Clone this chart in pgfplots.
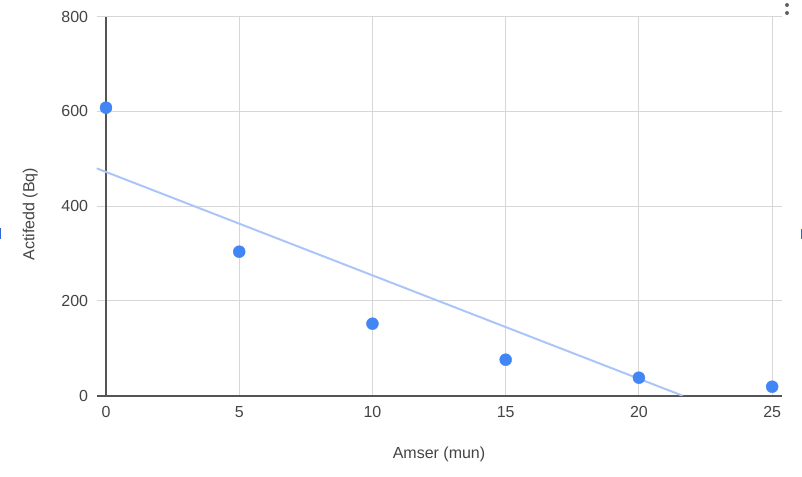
\documentclass[border=0pt]{standalone}
\usepackage{fontspec}
\setmainfont{Liberation Sans}
\usepackage{pgfplots}
\pgfplotsset{compat=1.18}
\definecolor{gblue}{HTML}{4285F4}
\definecolor{trend}{HTML}{AAC6F8}
\definecolor{gridc}{HTML}{D6D6D6}
\definecolor{axdark}{HTML}{555555}
\definecolor{txt}{HTML}{444444}
\definecolor{dotc}{HTML}{5F6368}
\definecolor{edgeblue}{HTML}{3367D6}
\begin{document}
\begin{tikzpicture}[font=\fontsize{16bp}{19bp}\selectfont]
\useasboundingbox (-96.7bp,-81.3bp) rectangle (705.3bp,395.7bp);
\begin{axis}[at={(0,0)}, anchor=south west, scale only axis,
  width=685.3bp, height=379bp,
  xmin=-0.349, xmax=25.37, ymin=0, ymax=800,
  xtick={5,10,...,25}, ytick={200,400,...,800},
  extra x ticks={0}, extra y ticks={0},
  extra x tick style={grid style={axdark, line width=1.6bp}},
  extra y tick style={grid style={axdark, line width=1.6bp}},
  grid=major, grid style={gridc, line width=1bp},
  axis line style={draw=none},
  tick style={draw=none},
  major tick length=0pt,
  /pgf/number format/assume math mode=true,
  ticklabel style={text=txt, inner sep=0pt},
  xticklabel style={anchor=base, yshift=-21.6bp},
  yticklabel style={anchor=east, xshift=-8.4bp},
  xlabel={Amser (mun)}, ylabel={Actifedd (Bq)},
  xlabel style={at={(rel axis cs:0.4995,-0.167)}, anchor=base, text=txt, inner sep=0pt},
  ylabel style={at={(rel axis cs:-0.0911,0.4794)}, anchor=base, text=txt, inner sep=0pt},
]
% linear trendline (least squares fit of the data)
\addplot[trend, line width=2bp, mark=none] coordinates {(-0.349,479.9) (21.64,0)};
% data
\addplot[only marks, mark=*, mark size=6bp, mark options={fill=gblue, draw=gblue}]
  coordinates {(0,608) (5,304) (10,152) (15,76) (20,38) (25,19)};
\end{axis}
\fill[dotc] (690.3bp,390.7bp) circle (2bp);
\fill[dotc] (690.3bp,382.7bp) circle (2bp);
\fill[edgeblue] (-96.7bp,167.7bp) rectangle (-95.4bp,156.7bp);
\fill[edgeblue] (704bp,166.7bp) rectangle (705.3bp,156.7bp);
\end{tikzpicture}
\end{document}
